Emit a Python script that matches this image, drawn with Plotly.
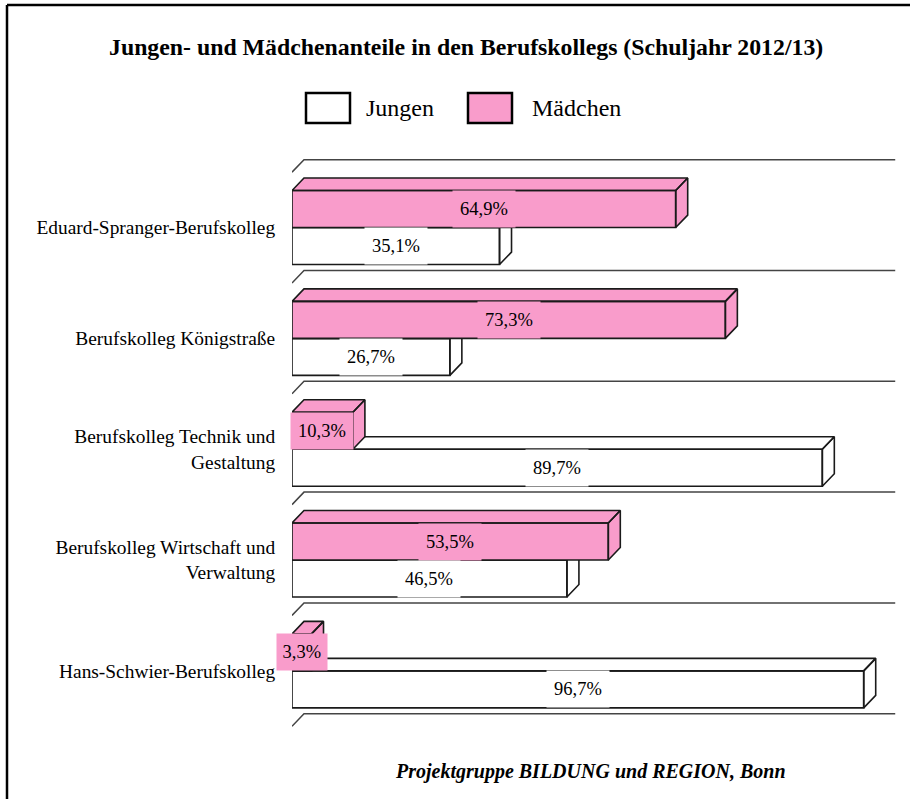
import plotly.graph_objects as go

# ---- data ----
categories = [
    "Eduard-Spranger-Berufskolleg",
    "Berufskolleg Königstraße",
    "Berufskolleg Technik und<br>Gestaltung",
    "Berufskolleg Wirtschaft und<br>Verwaltung",
    "Hans-Schwier-Berufskolleg",
]
jungen = [35.1, 26.7, 89.7, 46.5, 96.7]
maedchen = [64.9, 73.3, 10.3, 53.5, 3.3]
series_names = ["Jungen", "Mädchen"]
title_text = "Jungen- und Mädchenanteile in den Berufskollegs (Schuljahr 2012/13)"
footer_text = "Projektgruppe BILDUNG und REGION, Bonn"

# ---- styling / geometry ----
FONT = "Liberation Serif, Times New Roman, serif"
PINK = "#F99CCB"
EDGE = "#1a1a1a"
W_FIG, H_FIG = 910, 799
L, R, T, B = 292, 12, 150, 65
XR = [0, 102.5]
YR = [4.57, -0.7]
pw = W_FIG - L - R
ph = H_FIG - T - B
sx = pw / (XR[1] - XR[0])
sy = ph / (YR[0] - YR[1])
DX = 12 / sx        # depth offset in x (data units)
DY = 12.5 / sy      # depth offset in y (data units)
BH = 37 / sy        # bar front height (data units)


def pxx(x):
    return (x - L) / pw


def pxy(y):
    return 1 - (y - T) / ph


def fmt(v):
    return f"{v:.1f}".replace(".", ",") + "%"


def bar_polys(values, upper):
    xs, ys = [], []
    for i, v in enumerate(values):
        ya, yb = (i - BH, i) if upper else (i, i + BH)
        # front face
        xs += [0, v, v, 0, 0, None]
        ys += [ya, ya, yb, yb, ya, None]
        # top face
        xs += [0, DX, v + DX, v, 0, None]
        ys += [ya, ya - DY, ya - DY, ya, ya, None]
        # side face
        xs += [v, v + DX, v + DX, v, v, None]
        ys += [ya, ya - DY, yb - DY, yb, ya, None]
    return xs, ys


fig = go.Figure()

# gridlines (3D floor separators)
gx, gy = [], []
for k in range(len(categories) + 1):
    yk = k - 0.5
    gx += [0, DX, 100 + DX, None]
    gy += [yk, yk - DY, yk - DY, None]
fig.add_trace(go.Scatter(x=gx, y=gy, mode="lines",
                         line=dict(color="#444444", width=1.5),
                         hoverinfo="skip", showlegend=False))

# white (Jungen) bars first, then pink (Mädchen) bars
wx, wy = bar_polys(jungen, upper=False)
fig.add_trace(go.Scatter(x=wx, y=wy, mode="lines", fill="toself",
                         fillcolor="white", line=dict(color=EDGE, width=1.6),
                         name=series_names[0], hoverinfo="skip", showlegend=False))
mx, my = bar_polys(maedchen, upper=True)
fig.add_trace(go.Scatter(x=mx, y=my, mode="lines", fill="toself",
                         fillcolor=PINK, line=dict(color=EDGE, width=1.6),
                         name=series_names[1], hoverinfo="skip", showlegend=False))

annotations = []
LBL = 18.5
for i, (j, m) in enumerate(zip(jungen, maedchen)):
    for v, yc, bg in ((m, i - BH / 2, PINK), (j, i + BH / 2, "white")):
        t = fmt(v)
        annotations.append(dict(
            x=v / 2, y=yc, xref="x", yref="y", text=t, showarrow=False,
            font=dict(family=FONT, size=LBL, color="black"),
            bgcolor=bg, borderpad=0, width=12.4 * len(t), height=36,
            xanchor="center", yanchor="middle"))

# title, legend, footer
annotations.append(dict(x=pxx(466), y=pxy(47), xref="paper", yref="paper",
                        text="<b>" + title_text + "</b>", showarrow=False,
                        font=dict(family=FONT, size=23.8, color="black"),
                        xanchor="center", yanchor="middle"))
annotations.append(dict(x=pxx(364), y=pxy(108), xref="paper", yref="paper",
                        text=series_names[0], showarrow=False,
                        font=dict(family=FONT, size=24, color="black"),
                        xanchor="left", yanchor="middle"))
annotations.append(dict(x=pxx(530), y=pxy(108), xref="paper", yref="paper",
                        text=series_names[1], showarrow=False,
                        font=dict(family=FONT, size=24, color="black"),
                        xanchor="left", yanchor="middle"))
annotations.append(dict(x=pxx(590), y=pxy(771), xref="paper", yref="paper",
                        text="<b><i>" + footer_text + "</i></b>", showarrow=False,
                        font=dict(family=FONT, size=20, color="black"),
                        xanchor="center", yanchor="middle"))

shapes = [
    dict(type="line", xref="paper", yref="paper", x0=pxx(7), x1=pxx(915),
         y0=pxy(5), y1=pxy(5), line=dict(color="black", width=2.5)),
    dict(type="line", xref="paper", yref="paper", x0=pxx(7), x1=pxx(7),
         y0=pxy(5), y1=pxy(805), line=dict(color="black", width=2.5)),
    dict(type="rect", xref="paper", yref="paper", x0=pxx(306), x1=pxx(350),
         y0=pxy(123), y1=pxy(93), fillcolor="white",
         line=dict(color="black", width=2.5)),
    dict(type="rect", xref="paper", yref="paper", x0=pxx(468), x1=pxx(512),
         y0=pxy(123), y1=pxy(93), fillcolor=PINK,
         line=dict(color="black", width=2.5)),
]

fig.update_layout(
    width=W_FIG, height=H_FIG,
    margin=dict(l=L, r=R, t=T, b=B, pad=0),
    paper_bgcolor="white", plot_bgcolor="white",
    showlegend=False,
    xaxis=dict(range=XR, visible=False, fixedrange=True),
    yaxis=dict(range=YR, tickvals=list(range(len(categories))),
               ticktext=categories, showgrid=False, zeroline=False,
               showline=False, ticks="outside", ticklen=12,
               tickcolor="rgba(0,0,0,0)",
               tickfont=dict(family=FONT, size=19.4, color="black"),
               fixedrange=True),
    annotations=annotations,
    shapes=shapes,
)

fig.write_html("out.html", config={"displayModeBar": False},
               post_script="document.body.style.margin='0';"
                           "document.body.style.overflow='hidden';")
